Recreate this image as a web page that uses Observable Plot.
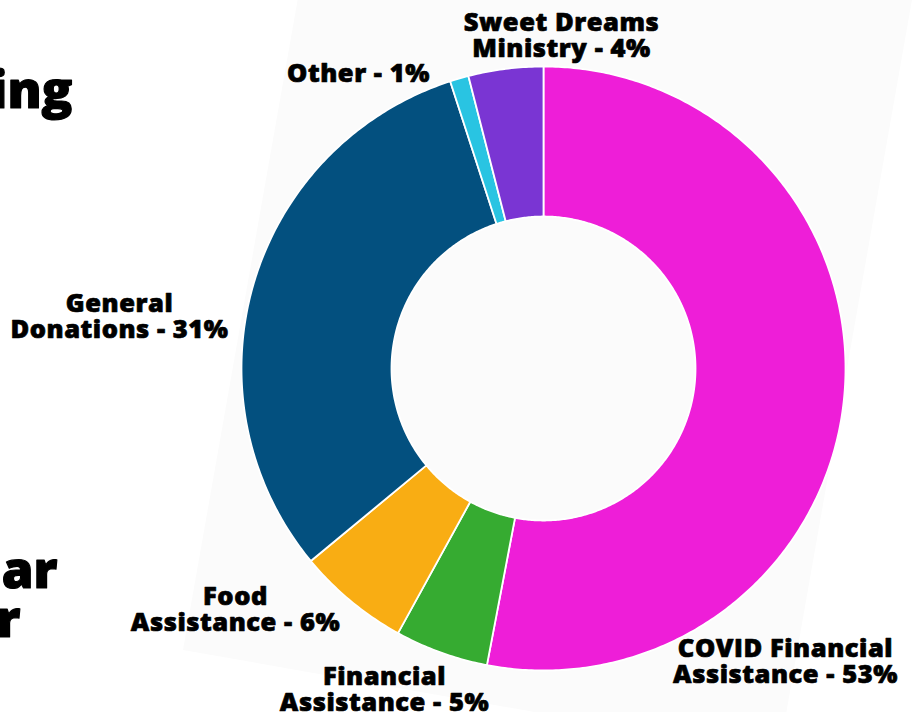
<!DOCTYPE html>
<html>
<head>
<meta charset="utf-8">
<script src="https://cdn.jsdelivr.net/npm/d3@7"></script>
<script src="https://cdn.jsdelivr.net/npm/@observablehq/plot@0.6"></script>
<style>
  html, body { margin: 0; padding: 0; background: #fff; }
  #wrap { position: relative; width: 916px; height: 712px; overflow: hidden; background: #fff; }
  #sheet { position: absolute; left: 183px; top: -350px; width: 605px; height: 1000px;
           background: #fbfbfb; transform-origin: 0 100%; transform: rotate(10deg); }
  #chart { position: absolute; left: 0; top: 0; }
  #chart svg { background: transparent; }
  #chart g.lbl text { letter-spacing: 0.55px; }
</style>
</head>
<body>
<div id="wrap"><div id="sheet"></div><div id="chart"></div></div>
<script>
// ---- data ----
const categories = ["COVID Financial Assistance", "Financial Assistance", "Food Assistance", "General Donations", "Other", "Sweet Dreams Ministry"];
const shares = [53, 5, 6, 31, 1, 4];
const colors = ["#EE1ED8", "#36AB31", "#F9AD13", "#03507F", "#29C4E2", "#7A35D3"];
const headingFragments = ["ing", "ar", "r"];

// ---- layout ----
const W = 916, H = 712;
const cx = 543, cy = 368, rOuter = 302, rInner = 152;
const labelAt = [[785, 661], [384, 689], [235, 609], [119, 316.5], [358, 73], [561, 35.5]];
const fragAt = [[72, 91], [57, 571], [20, 620]];

const rows = categories.map((c, i) => ({cat: c, value: shares[i]}));
const arcs = d3.pie().sort(null).value(d => d.value)(rows);

// polygon outline of every ring slice, built from the pie angles
const ringPts = [];
arcs.forEach(a => {
  const n = Math.max(4, Math.ceil((a.endAngle - a.startAngle) / 0.01));
  const pts = [];
  for (let k = 0; k <= n; k++) {
    const t = a.startAngle + (a.endAngle - a.startAngle) * k / n;
    pts.push({cat: a.data.cat, x: cx + rOuter * Math.sin(t), y: cy - rOuter * Math.cos(t)});
  }
  for (let k = n; k >= 0; k--) {
    const t = a.startAngle + (a.endAngle - a.startAngle) * k / n;
    pts.push({cat: a.data.cat, x: cx + rInner * Math.sin(t), y: cy - rInner * Math.cos(t)});
  }
  pts.push({...pts[0]});
  ringPts.push(...pts);
});

const labels = rows.map((r, i) => {
  const name = r.cat;
  const j = name.lastIndexOf(" ");
  const text = j < 0 ? `${name} - ${r.value}%` : `${name.slice(0, j)}\n${name.slice(j + 1)} - ${r.value}%`;
  return {text, x: labelAt[i][0], y: labelAt[i][1]};
});
const frags = headingFragments.map((t, i) => ({text: t, x: fragAt[i][0], y: fragAt[i][1]}));

const font = "'Open Sans', 'Noto Sans', sans-serif";

const chart = Plot.plot({
  width: W, height: H, margin: 0,
  style: {background: "transparent", fontFamily: font},
  x: {domain: [0, W], range: [0, W], axis: null},
  y: {domain: [0, H], range: [0, H], axis: null},
  color: {domain: categories, range: colors},
  marks: [
    Plot.line(ringPts, {x: "x", y: "y", z: "cat", fill: "cat", stroke: "white", strokeWidth: 1.8, curve: "linear"}),
    Plot.text(labels, {x: "x", y: "y", text: "text", textAnchor: "middle", lineAnchor: "middle",
      fontSize: 25.5, fontWeight: 800, lineHeight: 1.02, fill: "#000", stroke: "#000", strokeWidth: 0.7,
      fontFamily: font, className: "lbl"}),
    Plot.text(frags, {x: "x", y: "y", text: "text", textAnchor: "end", lineAnchor: "middle",
      fontSize: 51, fontWeight: 800, fill: "#000", stroke: "#000", strokeWidth: 1.2, fontFamily: font})
  ]
});
document.getElementById("chart").appendChild(chart);
</script>
</body>
</html>
